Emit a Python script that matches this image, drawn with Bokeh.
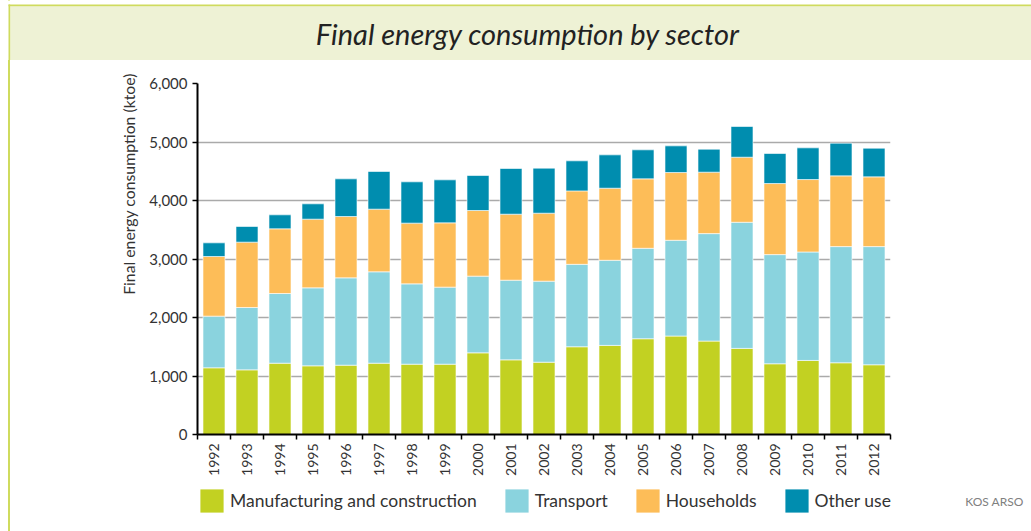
from math import pi
from bokeh.plotting import figure
from bokeh.layouts import column
from bokeh.models import (ColumnDataSource, Range1d, FixedTicker, NumeralTickFormatter,
                          Legend, LegendItem, Label, BoxAnnotation)
from bokeh.embed import file_html
from bokeh.resources import INLINE

# ---- data ----
years = [1992, 1993, 1994, 1995, 1996, 1997, 1998, 1999, 2000, 2001, 2002,
         2003, 2004, 2005, 2006, 2007, 2008, 2009, 2010, 2011, 2012]
year_labels = [str(y) for y in years]
manufacturing = [1140, 1105, 1219, 1174, 1185, 1219, 1202, 1202, 1396, 1276, 1236,
                 1500, 1523, 1637, 1683, 1597, 1472, 1209, 1266, 1226, 1192]
transport = [883, 1066, 1191, 1333, 1493, 1562, 1373, 1317, 1311, 1362, 1385,
             1409, 1455, 1546, 1637, 1837, 2156, 1866, 1854, 1986, 2020]
households = [1020, 1117, 1106, 1174, 1048, 1071, 1038, 1099, 1122, 1128, 1162,
              1255, 1232, 1187, 1158, 1050, 1112, 1215, 1238, 1209, 1192]
other_use = [233, 268, 239, 262, 644, 644, 706, 735, 598, 781, 770,
             514, 570, 496, 456, 393, 525, 513, 542, 559, 490]
series_names = ["Manufacturing and construction", "Transport", "Households", "Other use"]
y_ticks = [0, 1000, 2000, 3000, 4000, 5000, 6000]

colors = ["#C2D122", "#8AD3DE", "#FDBD58", "#008DAF"]
FONT = "Lato"
TXT = "#333333"
LINE = "#CFDB5E"
BAND = "#EEF2D5"
W = 1031


def blank(width, height, **kw):
    f = figure(width=width, height=height, x_range=Range1d(0, width),
               y_range=Range1d(height, 0), output_backend="svg", toolbar_location=None,
               x_axis_location=None, y_axis_location=None, min_border=0,
               outline_line_color=None, frame_align=False, **kw)
    f.grid.visible = False
    return f


def cbox(fig, l, r, t, b, color):
    fig.add_layout(BoxAnnotation(left=l, right=r, top=t, bottom=b, left_units="canvas",
                                 right_units="canvas", top_units="canvas",
                                 bottom_units="canvas", fill_color=color, fill_alpha=1,
                                 line_color=None))


# ---- header band with title ----
header = blank(W, 60, border_fill_color="white", background_fill_color="white")
cbox(header, 9.7, W, 5.7, 60, BAND)
cbox(header, 8, W, 4, 5.7, LINE)
cbox(header, 8, 9.7, 4, 60, LINE)
header.add_layout(Label(x=527.5, y=33, x_units="canvas", y_units="canvas",
                        text="Final energy consumption by sector", text_font=FONT,
                        text_font_style="italic", text_font_size="29px",
                        text_color="#222222", text_align="center",
                        text_baseline="middle"))

# ---- main chart ----
keys = ["mfg", "transport", "households", "other"]
src = ColumnDataSource(dict(year=years, mfg=manufacturing, transport=transport,
                            households=households, other=other_use))

p = figure(width=W, height=419, x_range=Range1d(years[0] - 0.5, years[-1] + 0.5),
           y_range=Range1d(0, 6000), output_backend="svg", toolbar_location=None,
           min_border_left=197, min_border_right=141, min_border_top=23,
           min_border_bottom=45, outline_line_color=None, background_fill_color="white",
           border_fill_alpha=0, frame_align=False)

renderers = p.vbar_stack(keys, x="year", width=0.667, color=colors, source=src,
                         line_color="white", line_width=0.6)

xa = p.xaxis[0]
xa.ticker = FixedTicker(ticks=years,
                        minor_ticks=[y - 0.5 for y in years] + [years[-1] + 0.5])
xa.major_label_overrides = {y: l for y, l in zip(years, year_labels)}
xa.major_tick_line_color = None
xa.major_tick_out = 5
xa.major_tick_in = 0
xa.minor_tick_out = 5
xa.minor_tick_in = 0
xa.minor_tick_line_color = "black"
xa.minor_tick_line_width = 1.5
xa.major_label_orientation = pi / 2
xa.major_label_standoff = 4
xa.major_label_text_font = FONT
xa.major_label_text_font_size = "14px"
xa.major_label_text_color = TXT
xa.axis_line_color = "black"
xa.axis_line_width = 2

ya = p.yaxis[0]
ya.ticker = FixedTicker(ticks=y_ticks)
ya.formatter = NumeralTickFormatter(format="0,0")
ya.major_tick_out = 5
ya.major_tick_in = 0
ya.major_tick_line_width = 1.5
ya.minor_tick_line_color = None
ya.major_label_standoff = 5
ya.major_label_text_font = FONT
ya.major_label_text_font_size = "15px"
ya.major_label_text_color = TXT
ya.axis_line_color = "black"
ya.axis_line_width = 2

p.xgrid.visible = False
p.ygrid.ticker = FixedTicker(ticks=y_ticks)
p.ygrid.grid_line_color = "#AAAAAA"
p.ygrid.grid_line_width = 1.5

# y-axis title in the left side panel (side panels are not clipped)
p.add_layout(Label(x=128, y=123.5, x_units="canvas", y_units="canvas", angle=pi / 2,
                   text="Final energy consumption (ktoe)", text_font=FONT,
                   text_font_size="15.8px", text_color=TXT,
                   text_align="center", text_baseline="middle"), "left")

# ---- footer with legend and source mark ----
footer = blank(W, 52, background_fill_alpha=0, border_fill_alpha=0)
# legend swatches come from the same stacked series (drawn outside this strip's view)
swatches = footer.vbar_stack(keys, x="year", width=0.667, color=colors, source=src,
                             line_color=None)
legend = Legend(items=[LegendItem(label=n, renderers=[r]) for n, r in zip(series_names, swatches)],
                orientation="horizontal", location=(197, 16), glyph_width=29, glyph_height=29,
                label_standoff=4, spacing=25, padding=0, margin=0, border_line_color=None,
                background_fill_alpha=0, label_text_font=FONT, label_text_font_size="17.5px",
                label_text_color=TXT, label_height=29)
footer.add_layout(legend)
footer.add_layout(Label(x=994, y=22, x_units="canvas", y_units="canvas", text="KOS ARSO",
                        text_font=FONT, text_font_size="12px", text_color="#808080",
                        text_align="center", text_baseline="middle"))

layout = column(header, p, footer, spacing=0,
                styles={"background": f"linear-gradient(to right, white 8px, {LINE} 8px, "
                                      f"{LINE} 9.7px, white 9.7px)"})

open("out.html", "w").write(file_html(layout, INLINE))
